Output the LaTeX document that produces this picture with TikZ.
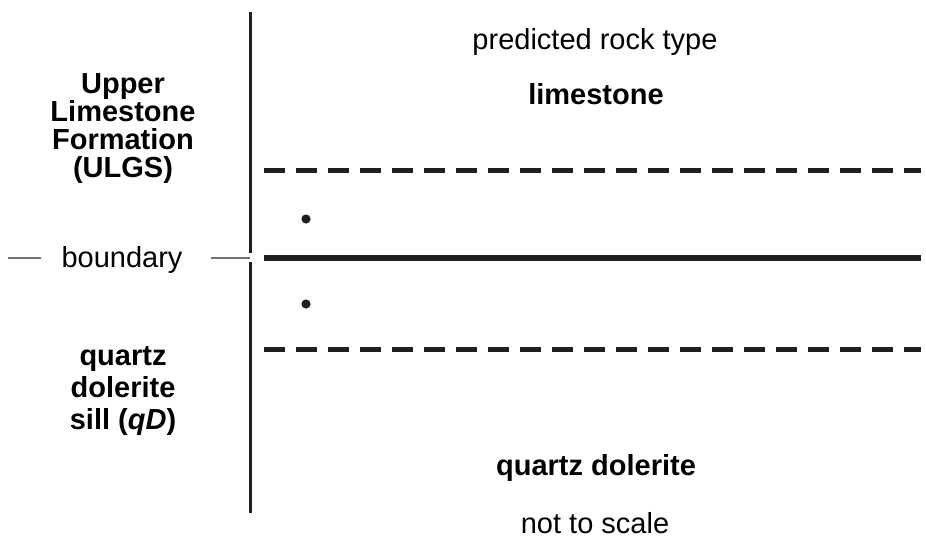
\documentclass[tikz,border=0pt]{standalone}
\usepackage{fontspec}
\setmainfont{Liberation Sans}
\begin{document}
\begin{tikzpicture}[x=1pt,y=-1pt,
  lbl/.style={inner sep=0pt,anchor=base,font=\fontsize{29}{27.5}\selectfont},
  blbl/.style={inner sep=0pt,anchor=base,align=center,font=\fontsize{29}{27.7}\selectfont\bfseries},
  axis/.style={line width=3pt,color=black!88},
  dashline/.style={line width=5pt,color=black!88,dash pattern=on 21pt off 11pt},
  solidline/.style={line width=5.2pt,color=black!88},
  leader/.style={line width=1.3pt,color=black!55},
  dotmark/.style={fill=black!88}]
\useasboundingbox (0,0) rectangle (926,543);
% axis
\coordinate (a1) at (250,12);
\coordinate (a2) at (250,253);
\coordinate (a3) at (250,262);
\coordinate (a4) at (250,513);
\draw[axis] (a1) -- (a2);
\draw[axis] (a3) -- (a4);
% lines
\coordinate (d1l) at (264,170);
\coordinate (d1r) at (921,170);
\coordinate (bl) at (264,258);
\coordinate (br) at (921,258);
\coordinate (d2l) at (264,349);
\coordinate (d2r) at (921,349);
\draw[dashline] (d1l) -- (d1r);
\draw[solidline] (bl) -- (br);
\draw[dashline] (d2l) -- (d2r);
% dots
\fill[dotmark] (306,219) circle (4.6);
\fill[dotmark] (306,304) circle (4.6);
% texts
\node[lbl] (pred) at (595,49) {predicted rock type};
\node[lbl,font=\fontsize{29}{27.5}\selectfont\bfseries] (lime) at (596,104) {limestone};
\node[lbl,font=\fontsize{29}{27.5}\selectfont\bfseries] (qd) at (596,475) {quartz dolerite};
\node[lbl] (nts) at (595,533) {not to scale};
\node[blbl] (ulgs) at (123,177) {Upper\\Limestone\\Formation\\(ULGS)};
\node[blbl,font=\fontsize{29}{32}\selectfont\bfseries] (qds) at (123,429) {quartz\\dolerite\\sill (\textit{qD})};
\node[lbl] (bnd) at (122,267) {boundary};
% leaders
\coordinate (l0) at (8,258);
\coordinate (l1) at (41,258);
\coordinate (r0) at (211,258);
\coordinate (r1) at (250,258);
\draw[leader] (l0) -- (l1);
\draw[leader] (r0) -- (r1);
\end{tikzpicture}
\end{document}
